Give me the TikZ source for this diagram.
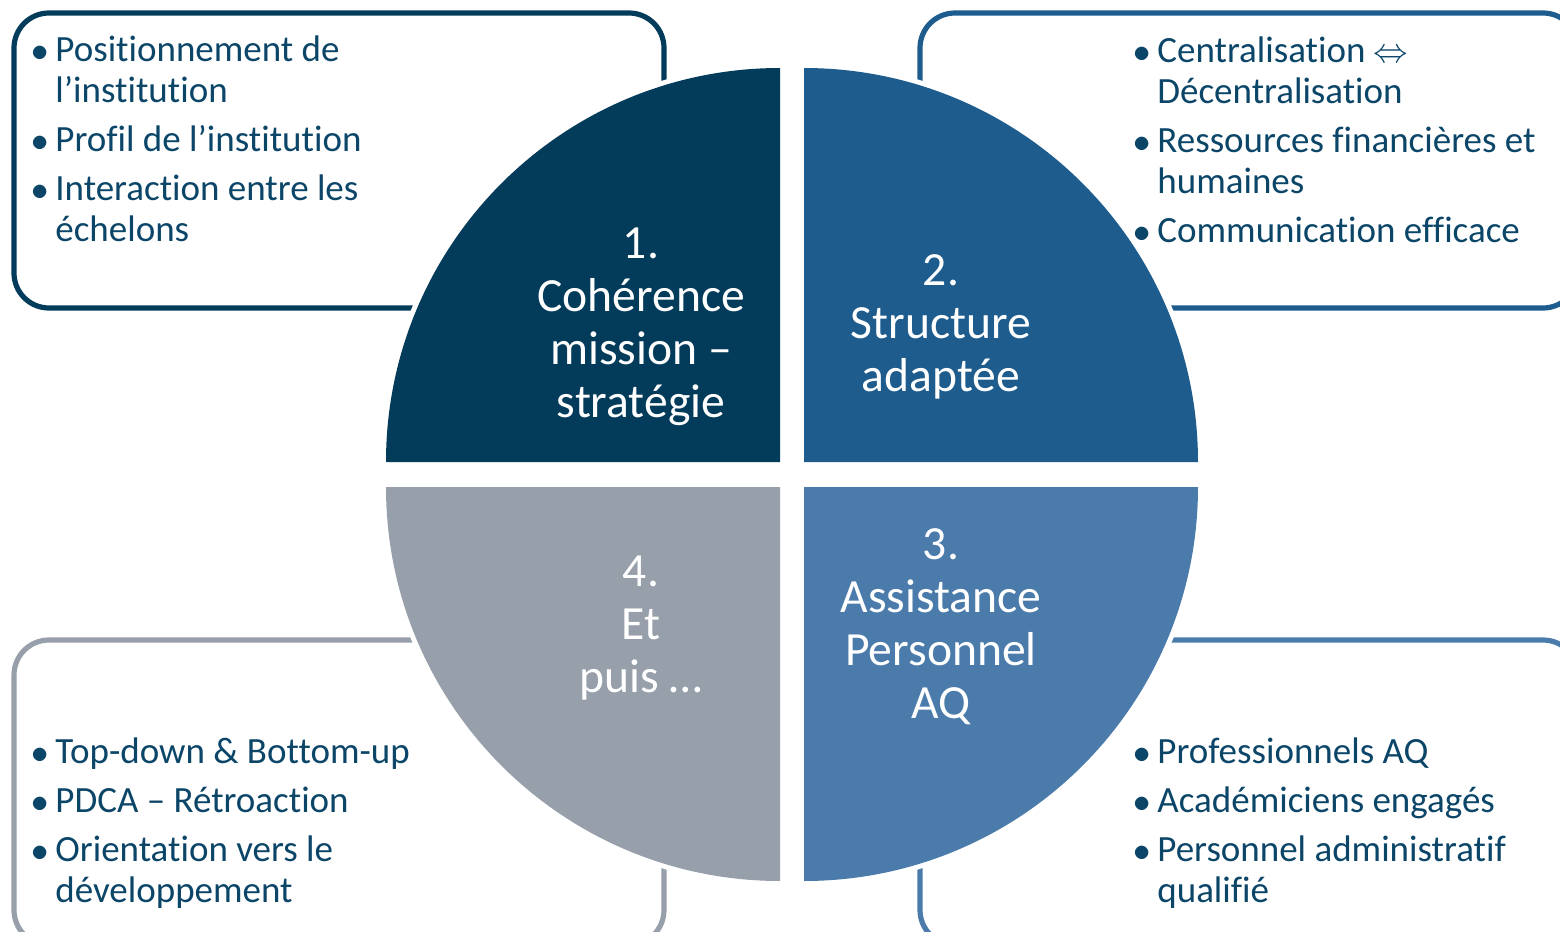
\documentclass[tikz,border=0pt]{standalone}
\usepackage{fontspec}
\setmainfont{Carlito}[Ligatures={NoCommon}]
\usetikzlibrary{positioning}

\definecolor{bleuNuit}{RGB}{3,59,90}
\definecolor{bleuMoyen}{RGB}{29,92,141}
\definecolor{bleuClair}{RGB}{74,123,170}
\definecolor{grisBleu}{RGB}{151,159,171}
\definecolor{texteBleu}{RGB}{11,69,104}

\tikzset{
  cadre/.style={rounded corners=17.5pt, line width=2.6pt},
  halo/.style={draw=white, line width=5pt},
  puces/.style={anchor=base west, inner sep=0pt, text=texteBleu,
    font=\fontsize{18.5}{20.5}\selectfont},
  titre/.style={align=center, text=white, inner sep=0pt,
    font=\fontsize{23.8}{26.5}\selectfont}
}

\newcommand{\pc}{$\bullet$}

\begin{document}
\begin{tikzpicture}[x=0.5pt, y=-0.5pt]
\useasboundingbox (0,0) rectangle (1560,932);
\clip (0,0) rectangle (1560,932);

% cadres
\draw[cadre, draw=bleuNuit] (14,13) rectangle (664,308);
\draw[cadre, draw=bleuMoyen] (920,13) rectangle (1578,308);
\draw[cadre, draw=grisBleu] (14,640) rectangle (664,945);
\draw[cadre, draw=bleuClair] (920,640) rectangle (1578,945);

% quadrants
\draw[halo] (780,462) -- (386,462) arc[start angle=180, end angle=270, radius=394] -- cycle;
\draw[halo] (804,462) -- (1198,462) arc[start angle=0, end angle=-90, radius=394] -- cycle;
\draw[halo] (780,487) -- (386,487) arc[start angle=180, end angle=90, radius=394] -- cycle;
\draw[halo] (804,487) -- (1198,487) arc[start angle=0, end angle=90, radius=394] -- cycle;
\fill[bleuNuit] (780,462) -- (386,462) arc[start angle=180, end angle=270, radius=394] -- cycle;
\fill[bleuMoyen] (804,462) -- (1198,462) arc[start angle=0, end angle=-90, radius=394] -- cycle;
\fill[grisBleu] (780,487) -- (386,487) arc[start angle=180, end angle=90, radius=394] -- cycle;
\fill[bleuClair] (804,487) -- (1198,487) arc[start angle=0, end angle=90, radius=394] -- cycle;

% titres
\node[titre] (coherence) at (641,327) {1.\\Cohérence\\mission –\\stratégie};
\node[titre] (structure) at (941,327) {2.\\Structure\\adaptée};
\node[titre] (assistance) at (941,627) {3.\\Assistance\\Personnel\\AQ};
\node[titre] (etpuis) at (641,628) {4.\\Et\\puis …};

% listes
\node[puces] (listeCoherence) at (31,61) {\begin{tabular}[t]{@{}p{12pt}@{}l@{}}
  \pc & Positionnement de\\ & l’institution\\[4pt]
  \pc & Profil de l’institution\\[4pt]
  \pc & Interaction entre les\\ & échelons
\end{tabular}};
\node[puces] (listeStructure) at (1133,62) {\begin{tabular}[t]{@{}p{12pt}@{}l@{}}
  \pc & Centralisation $\Leftrightarrow$\\ & Décentralisation\\[4pt]
  \pc & Ressources financières et\\ & humaines\\[4pt]
  \pc & Communication efficace
\end{tabular}};
\node[puces] (listeEtpuis) at (31,763) {\begin{tabular}[t]{@{}p{12pt}@{}l@{}}
  \pc & Top-down \& Bottom-up\\[4pt]
  \pc & PDCA – Rétroaction\\[4pt]
  \pc & Orientation vers le\\ & développement
\end{tabular}};
\node[puces] (listeAssistance) at (1133,763) {\begin{tabular}[t]{@{}p{12pt}@{}l@{}}
  \pc & Professionnels AQ\\[4pt]
  \pc & Académiciens engagés\\[4pt]
  \pc & Personnel administratif\\ & qualifié
\end{tabular}};
\end{tikzpicture}
\end{document}
